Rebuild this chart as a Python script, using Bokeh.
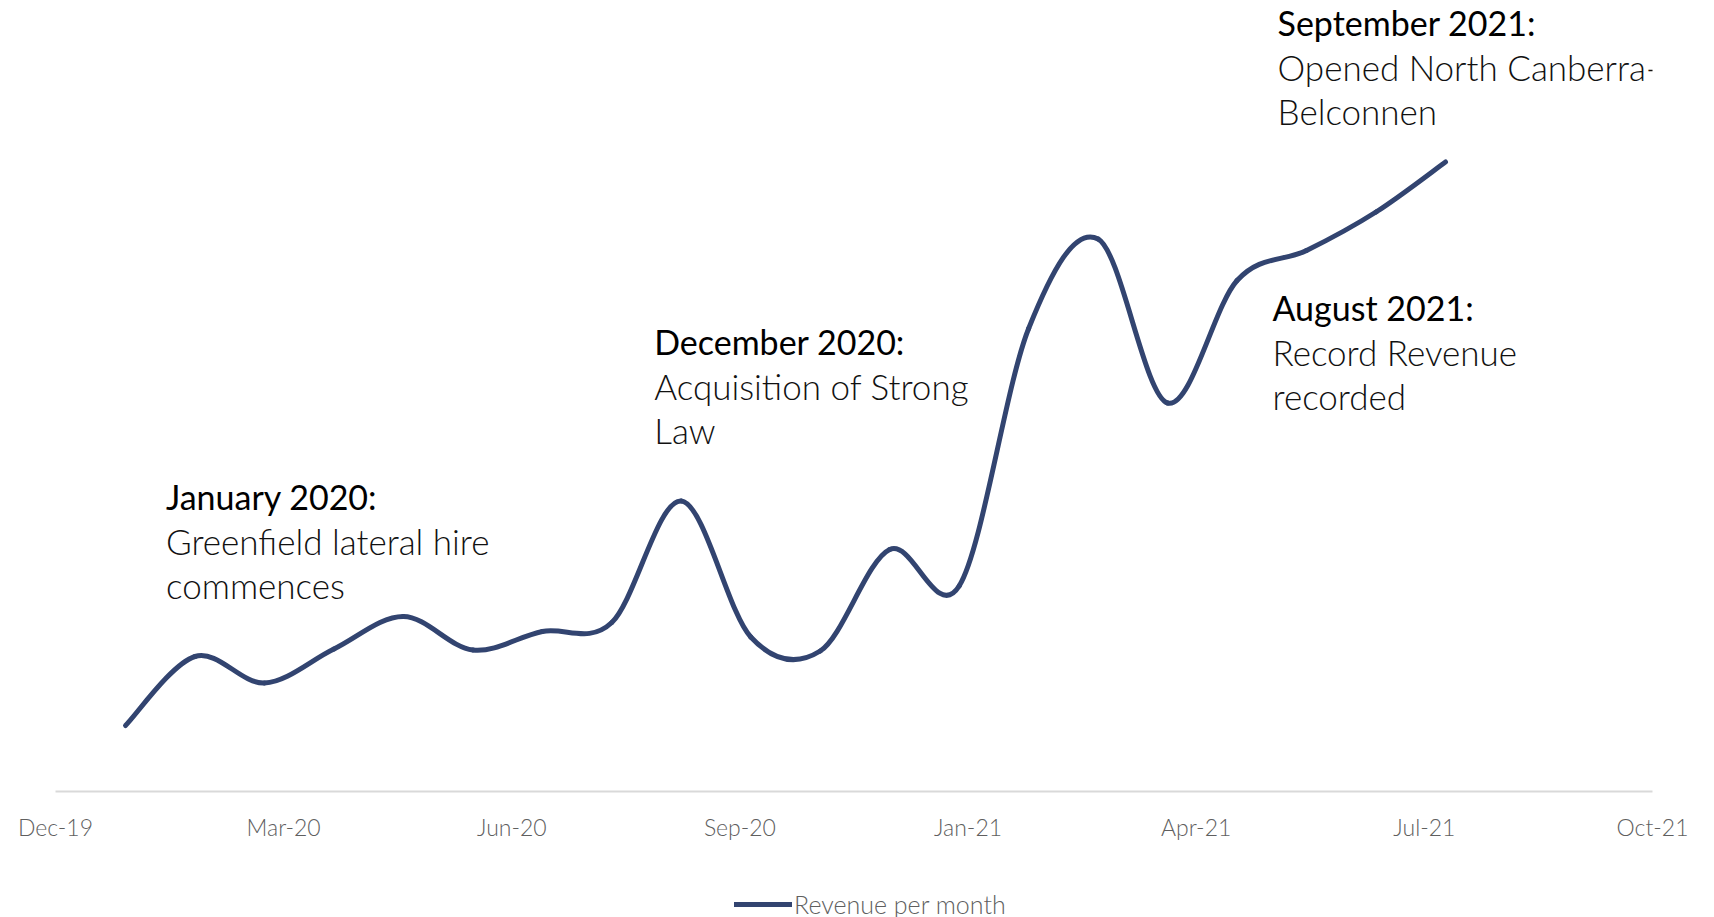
import numpy as np
from bokeh.plotting import figure
from bokeh.layouts import column
from bokeh.models import ColumnDataSource, FixedTicker, Legend, LegendItem, Range1d
from bokeh.core.properties import value
from bokeh.embed import file_html
from bokeh.resources import INLINE

# ---------------- data ----------------
months = ["Jan-20", "Feb-20", "Mar-20", "Apr-20", "May-20", "Jun-20", "Jul-20",
          "Aug-20", "Sep-20", "Oct-20", "Nov-20", "Dec-20", "Jan-21", "Feb-21",
          "Mar-21", "Apr-21", "May-21", "Jun-21", "Jul-21", "Aug-21"]
revenue = [13.2, 27.0, 21.7, 28.5, 35.0, 28.3, 32.0, 33.8, 58.1, 30.9,
           28.1, 48.4, 41.1, 92.6, 110.5, 77.7, 102.2, 108.2, 115.9, 125.9]
tick_labels = ["Dec-19", "Mar-20", "Jun-20", "Sep-20", "Jan-21", "Apr-21", "Jul-21", "Oct-21"]

ann_titles = ["January 2020:", "December 2020:", "August 2021:", "September 2021:"]
ann_bodies = [["Greenfield lateral hire", "commences"],
              ["Acquisition of Strong", "Law"],
              ["Record Revenue", "recorded"],
              ["Opened North Canberra-", "Belconnen"]]
ann_x = [0.583, 7.61, 16.51, 16.583]
ann_y = [59.1, 90.1, 96.9, 153.9]

series_name = "Revenue per month"

# ---------------- style ----------------
NAVY = "#324470"
GREY = "#5f5f5f"
LIGHT_FONT = "Lato Light, Lato"
REG_FONT = "Lato"

X_START, X_END = -1.008, 21.98
Y_START, Y_END = 0.0, 158.2

p = figure(width=1706, height=857,
           x_range=Range1d(X_START - 1e-6, X_END + 1e-6),
           y_range=Range1d(Y_START, Y_END),
           output_backend="svg", toolbar_location=None,
           y_axis_location=None,
           min_border_left=55, min_border_right=54,
           min_border_top=0, min_border_bottom=66)
p.outline_line_color = None
p.grid.visible = False
p.background_fill_color = "white"
p.border_fill_color = "white"

# x axis
ticks = list(np.linspace(X_START, X_END, len(tick_labels)))
xa = p.xaxis[0]
xa.ticker = FixedTicker(ticks=ticks)
xa.major_label_overrides = {t: lab for t, lab in zip(ticks, tick_labels)}
xa.major_tick_line_color = None
xa.minor_tick_line_color = None
xa.axis_line_color = "#d9d9d9"
xa.axis_line_width = 2
xa.major_label_text_font = LIGHT_FONT
xa.major_label_text_font_size = "23px"
xa.major_label_text_color = GREY
xa.major_label_standoff = 15

# smoothed line (Catmull-Rom style bezier segments through the data points)
xs = np.arange(len(revenue), dtype=float)
ys = np.array(revenue, dtype=float)
xp = np.concatenate([[xs[0]], xs, [xs[-1]]])
yp = np.concatenate([[ys[0]], ys, [ys[-1]]])
n = len(xs)
seg = dict(
    x0=xs[:-1], y0=ys[:-1], x1=xs[1:], y1=ys[1:],
    cx0=xs[:-1] + (xp[2:n + 1] - xp[0:n - 1]) / 6.0,
    cy0=ys[:-1] + (yp[2:n + 1] - yp[0:n - 1]) / 6.0,
    cx1=xs[1:] - (xp[3:n + 2] - xp[1:n]) / 6.0,
    cy1=ys[1:] - (yp[3:n + 2] - yp[1:n]) / 6.0,
)
src = ColumnDataSource(seg)
curve_kw = dict(x0="x0", y0="y0", x1="x1", y1="y1", cx0="cx0", cy0="cy0",
                cx1="cx1", cy1="cy1", source=src,
                line_color=NAVY, line_width=5, line_cap="round")
curve = p.bezier(**curve_kw)

# annotations
p.text(x=ann_x, y=ann_y, text=ann_titles,
       text_font=value(REG_FONT), text_font_size="34px", text_color="#000000",
       text_align="left", text_baseline="alphabetic")
bx, by, bt, boff = [], [], [], []
for x, y, lines in zip(ann_x, ann_y, ann_bodies):
    for k, line in enumerate(lines):
        bx.append(x); by.append(y); bt.append(line); boff.append(44.7 * (k + 1))
bsrc = ColumnDataSource(dict(x=bx, y=by, text=bt, off=boff))
p.text(x="x", y="y", text="text", y_offset="off", source=bsrc,
       text_font=value(LIGHT_FONT), text_font_size="35px", text_color="#111111",
       text_align="left", text_baseline="alphabetic")

# legend strip below the chart
p2 = figure(width=1706, height=60, x_range=Range1d(0, 1), y_range=Range1d(0, 1),
            output_backend="svg", toolbar_location=None,
            x_axis_location=None, y_axis_location=None,
            min_border_left=0, min_border_right=0, min_border_top=0, min_border_bottom=0)
p2.outline_line_color = None
p2.grid.visible = False
p2.background_fill_color = "white"
p2.border_fill_color = "white"
swatch = p2.bezier(**curve_kw)
swatch.visible = False

legend = Legend(items=[LegendItem(label=series_name, renderers=[swatch])],
                orientation="horizontal", location=(679, -2),
                border_line_color=None, background_fill_alpha=0,
                glyph_width=58, glyph_height=20, label_standoff=2,
                padding=0, margin=0, spacing=0,
                label_text_font=LIGHT_FONT, label_text_font_size="25px",
                label_text_color=GREY)
p2.add_layout(legend)

layout = column(p, p2, spacing=0)
open("out.html", "w").write(file_html(layout, INLINE))
